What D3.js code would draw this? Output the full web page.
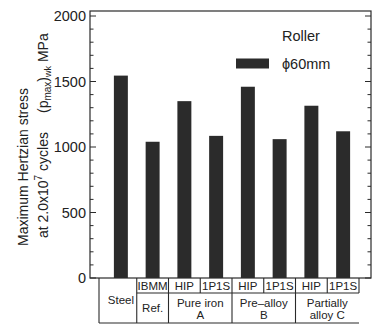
<!DOCTYPE html>
<html>
<head>
<meta charset="utf-8">
<script src="https://cdn.jsdelivr.net/npm/d3@7"></script>
<style>
  body { margin: 0; background: #fff; }
  svg { display: block; font-family: 'Liberation Sans', Arial, sans-serif; }
</style>
</head>
<body>
<svg id="chart" width="373" height="325"></svg>
<script>
// data
const categories = ['Steel', 'IBMM', 'HIP A', '1P1S A', 'HIP B', '1P1S B', 'HIP C', '1P1S C'];
const stress = [1545, 1040, 1350, 1085, 1460, 1060, 1315, 1120];
const processLabels = ['', 'IBMM', 'HIP', '1P1S', 'HIP', '1P1S', 'HIP', '1P1S'];
const groupLabels = [['Steel'], ['Ref.'], ['Pure iron', 'A'], ['Pre\u2013alloy', 'B'], ['Partially', 'alloy  C']];
const groupSpans = [[0, 0], [1, 1], [2, 3], [4, 5], [6, 7]];
const yTicks = [0, 500, 1000, 1500, 2000];
const minorTicks = d3.range(0, 2001, 100);

const ink = '#2a2a2a';
const svg = d3.select('#chart');

const x = d3.scaleBand()
  .domain(categories)
  .range([105, 359])
  .paddingInner(0.56)
  .paddingOuter(0.28);

const y = d3.scaleLinear()
  .domain([0, 2000])
  .range([278, 16]);

const plotLeft = 90, plotRight = 371, plotTop = 11, plotBottom = y(0);

// frame
svg.append('rect')
  .attr('x', plotLeft).attr('y', plotTop)
  .attr('width', plotRight - plotLeft).attr('height', plotBottom - plotTop)
  .attr('fill', 'none').attr('stroke', ink).attr('stroke-width', 1.2);

// inward ticks on both sides
const tickLen = v => yTicks.includes(v) ? 6 : 3.5;
svg.append('g').selectAll('line')
  .data(minorTicks).join('line')
  .attr('x1', plotLeft).attr('x2', d => plotLeft + tickLen(d))
  .attr('y1', d => y(d)).attr('y2', d => y(d))
  .attr('stroke', ink).attr('stroke-width', 1);
svg.append('g').selectAll('line')
  .data(minorTicks).join('line')
  .attr('x1', plotRight).attr('x2', d => plotRight - tickLen(d))
  .attr('y1', d => y(d)).attr('y2', d => y(d))
  .attr('stroke', ink).attr('stroke-width', 1);

svg.append('g').selectAll('text')
  .data(yTicks).join('text')
  .attr('x', plotLeft - 4).attr('y', d => y(d))
  .attr('dy', '0.36em')
  .attr('text-anchor', 'end')
  .attr('font-size', 14.5)
  .attr('fill', '#222')
  .text(d => d);

// bars
svg.append('g').selectAll('rect')
  .data(stress).join('rect')
  .attr('x', (d, i) => x(categories[i]))
  .attr('y', d => y(d))
  .attr('width', x.bandwidth())
  .attr('height', d => y(0) - y(d))
  .attr('fill', '#2b2b2b');

// y axis title
svg.append('text')
  .attr('transform', 'translate(28,167) rotate(-90)')
  .attr('text-anchor', 'middle')
  .attr('font-size', 14)
  .attr('fill', '#222')
  .text('Maximum Hertzian stress');

const t2 = svg.append('text')
  .attr('transform', 'translate(48,238) rotate(-90)')
  .attr('text-anchor', 'start')
  .attr('font-size', 14)
  .attr('fill', '#222');
t2.append('tspan').text('at 2.0x10');
t2.append('tspan').attr('dy', -6).attr('font-size', 10).text('7');
t2.append('tspan').attr('dy', 6).text(' cycles');

const t3 = svg.append('text')
  .attr('transform', 'translate(48,113) rotate(-90)')
  .attr('text-anchor', 'start')
  .attr('font-size', 14)
  .attr('fill', '#222');
t3.append('tspan').text('(p');
t3.append('tspan').attr('dy', 3).attr('font-size', 10).text('max');
t3.append('tspan').attr('dy', -3).text(')');
t3.append('tspan').attr('dy', 3).attr('font-size', 9).text('wk');
t3.append('tspan').attr('dy', -3).text('  MPa');

// legend
svg.append('text')
  .attr('x', 282).attr('y', 36).attr('dy', '0.36em')
  .attr('font-size', 14.5).attr('fill', '#222')
  .text('Roller');
svg.append('rect')
  .attr('x', 236).attr('y', 58.5)
  .attr('width', 33).attr('height', 10)
  .attr('fill', '#2b2b2b');
svg.append('text')
  .attr('x', 282).attr('y', 64).attr('dy', '0.36em')
  .attr('font-size', 14.5).attr('fill', '#222')
  .text('\u03d560mm');

// category table under the axis
const step = x.step();
const edge = i => x(categories[i]) - (step - x.bandwidth()) / 2;
const tableLeft = 99, tableRight = edge(7) + step;
const rowMid = 293, tableBottom = 323;
const table = svg.append('g').attr('stroke', ink).attr('stroke-width', 1.1);

table.append('line')
  .attr('x1', tableLeft).attr('x2', tableLeft)
  .attr('y1', plotBottom).attr('y2', tableBottom);
table.append('line')
  .attr('x1', tableLeft).attr('x2', tableRight)
  .attr('y1', tableBottom).attr('y2', tableBottom);
table.append('line')
  .attr('x1', edge(1)).attr('x2', tableRight)
  .attr('y1', rowMid).attr('y2', rowMid);
table.append('line')
  .attr('x1', tableRight).attr('x2', tableRight)
  .attr('y1', plotBottom).attr('y2', rowMid);

// group borders run full height, process borders only in top row
table.selectAll('line.group')
  .data(groupSpans.slice(1)).join('line')
  .attr('class', 'group')
  .attr('x1', d => edge(d[0])).attr('x2', d => edge(d[0]))
  .attr('y1', plotBottom).attr('y2', tableBottom);
table.selectAll('line.proc')
  .data(groupSpans.filter(d => d[1] > d[0])).join('line')
  .attr('class', 'proc')
  .attr('x1', d => edge(d[1])).attr('x2', d => edge(d[1]))
  .attr('y1', plotBottom).attr('y2', rowMid);

svg.append('g').selectAll('text')
  .data(processLabels).join('text')
  .attr('x', (d, i) => x(categories[i]) + x.bandwidth() / 2)
  .attr('y', 285.5).attr('dy', '0.36em')
  .attr('text-anchor', 'middle')
  .attr('font-size', 11.5).attr('fill', '#222')
  .text(d => d);

groupLabels.forEach((lines, g) => {
  const [a, b] = groupSpans[g];
  const cx = (edge(a) + edge(b) + step) / 2;
  const cy = g === 0 ? 300 : (lines.length === 1 ? 308 : 302.5);
  svg.append('g').selectAll('text')
    .data(lines).join('text')
    .attr('x', cx)
    .attr('y', (d, i) => cy + i * 12.5).attr('dy', '0.36em')
    .attr('text-anchor', 'middle')
    .attr('font-size', 11.5).attr('fill', '#222')
    .text(d => d);
});
</script>
</body>
</html>
